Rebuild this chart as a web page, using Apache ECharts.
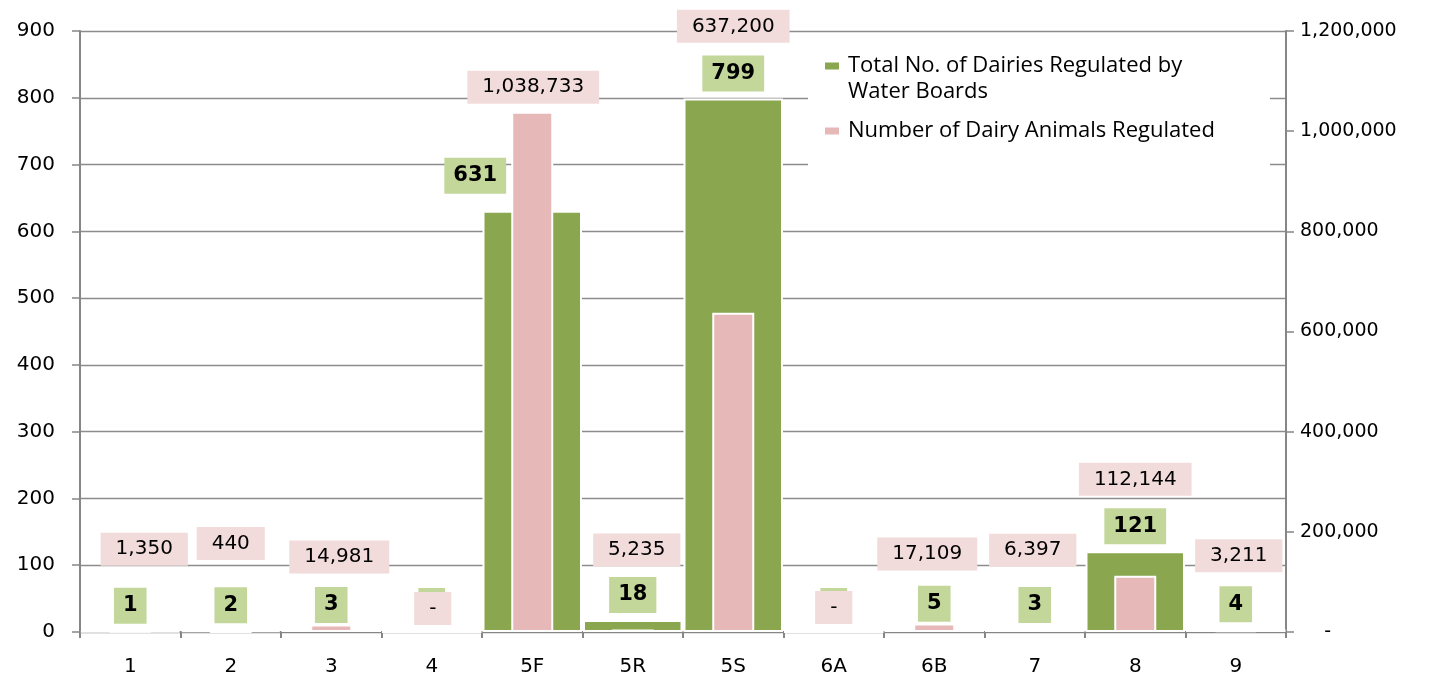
<!DOCTYPE html>
<html><head><meta charset="utf-8">
<script src="https://cdn.jsdelivr.net/npm/echarts@6/dist/echarts.min.js"></script>
<style>html,body{margin:0;padding:0;background:#fff}#c{width:1435px;height:677px}</style>
</head><body><div id="c"></div>
<script>
// ---- data ----
const categories = ['1','2','3','4','5F','5R','5S','6A','6B','7','8','9'];
const dairies = [1, 2, 3, 0, 631, 18, 799, 0, 5, 3, 121, 4];
const animals = [1350, 440, 14981, 0, 1038733, 5235, 637200, 0, 17109, 6397, 112144, 3211];
const leftAxisMax = 900, leftAxisStep = 100;
const rightAxisMax = 1200000, rightAxisStep = 200000;
const seriesNames = ['Total No. of Dairies Regulated by Water Boards', 'Number of Dairy Animals Regulated'];
const legendLines = [['Total No. of Dairies Regulated by', 'Water Boards'], ['Number of Dairy Animals Regulated']];

// ---- label placement styles (manually moved labels in the source) ----
const greenLabelShift = [null, null, null, null, [-57, -10], null, null, null, null, null, null, null];
const pinkLabelShift = [[14,-58],[0,-64],[8,-44],[1,1],[1,-1],[4,-56],[0,-263],[0,0],[-7,-46],[-2,-55],[0,-73],[3,-51]];

const fmt = v => v === 0 ? '-' : v.toLocaleString('en-US');
const AX = '#868686', GRID = '#8c8c8c', FONT = 'DejaVu Sans';

const chart = echarts.init(document.getElementById('c'), null, {renderer: 'canvas'});
chart.setOption({
  animation: false,
  backgroundColor: '#fff',
  grid: {left: 80, right: 149, top: 31, bottom: 45, containLabel: false},
  graphic: {
    z: 1,
    elements: [{type: 'rect', z: 1, shape: {x: 808, y: 33, width: 462, height: 167}, style: {fill: '#fff'}}]
  },
  legend: {
    orient: 'vertical', left: 823, top: 27, padding: 0, itemGap: 13,
    itemWidth: 16, itemHeight: 9, icon: 'rect',
    formatter: name => {
      const lines = legendLines[seriesNames.indexOf(name)];
      // blank first line keeps the first text line level with the colour key
      return lines.length > 1 ? ' \n' + lines.join('\n') : lines[0];
    },
    textStyle: {fontFamily: 'Open Sans', fontSize: 22, color: '#000', lineHeight: 26, padding: [0, 0, 0, 3]},
    data: seriesNames
  },
  xAxis: [
    {type: 'category', data: categories, boundaryGap: true,
     axisLine: {show: true, lineStyle: {color: AX, width: 2}},
     axisTick: {show: true, length: 6, lineStyle: {color: AX, width: 2}},
     axisLabel: {color: '#000', fontFamily: FONT, fontSize: 20, margin: 25}},
    {type: 'category', data: categories, show: false, boundaryGap: true}
  ],
  yAxis: [
    {type: 'value', position: 'left', min: 0, max: leftAxisMax, interval: leftAxisStep,
     axisLine: {show: true, lineStyle: {color: AX, width: 2}},
     axisTick: {show: true, length: 8, lineStyle: {color: AX, width: 1.5}},
     splitLine: {show: true, lineStyle: {color: GRID, width: 1.3}},
     axisLabel: {color: '#000', fontFamily: FONT, fontSize: 20, margin: 25}},
    {type: 'value', position: 'right', min: 0, max: rightAxisMax, interval: rightAxisStep,
     axisLine: {show: true, lineStyle: {color: AX, width: 2}},
     axisTick: {show: true, length: 8, lineStyle: {color: AX, width: 1.5}},
     splitLine: {show: false},
     axisLabel: {color: '#000', fontFamily: FONT, fontSize: 19, margin: 14,
       formatter: v => v === 0 ? '    -' : v.toLocaleString('en-US')}}
  ],
  series: [
    {name: seriesNames[0], type: 'bar', xAxisIndex: 0, yAxisIndex: 0, barWidth: '99%',
     itemStyle: {color: '#8aa64e', borderColor: '#fff', borderWidth: 2},
     label: {show: true, position: 'top', distance: 7, formatter: p => fmt(p.value),
       fontFamily: FONT, fontWeight: 'bold', fontSize: 21, color: '#000', lineHeight: 22,
       backgroundColor: '#c4d79b', padding: [7, 9, 7, 9]},
     data: dairies.map((v, i) => greenLabelShift[i] ? {value: v, label: {offset: greenLabelShift[i]}} : v)},
    {name: seriesNames[1], type: 'bar', xAxisIndex: 1, yAxisIndex: 1, barWidth: 42,
     itemStyle: {color: '#e6b8b7', borderColor: '#fff', borderWidth: 2},
     label: {show: true, position: 'top', distance: 7, formatter: p => fmt(p.value),
       fontFamily: FONT, fontSize: 20, color: '#000', lineHeight: 21,
       backgroundColor: '#f2dcdb', padding: [6, 15, 6, 15]},
     data: animals.map((v, i) => ({value: v, label: {offset: pinkLabelShift[i]}}))}
  ]
});
</script></body></html>
